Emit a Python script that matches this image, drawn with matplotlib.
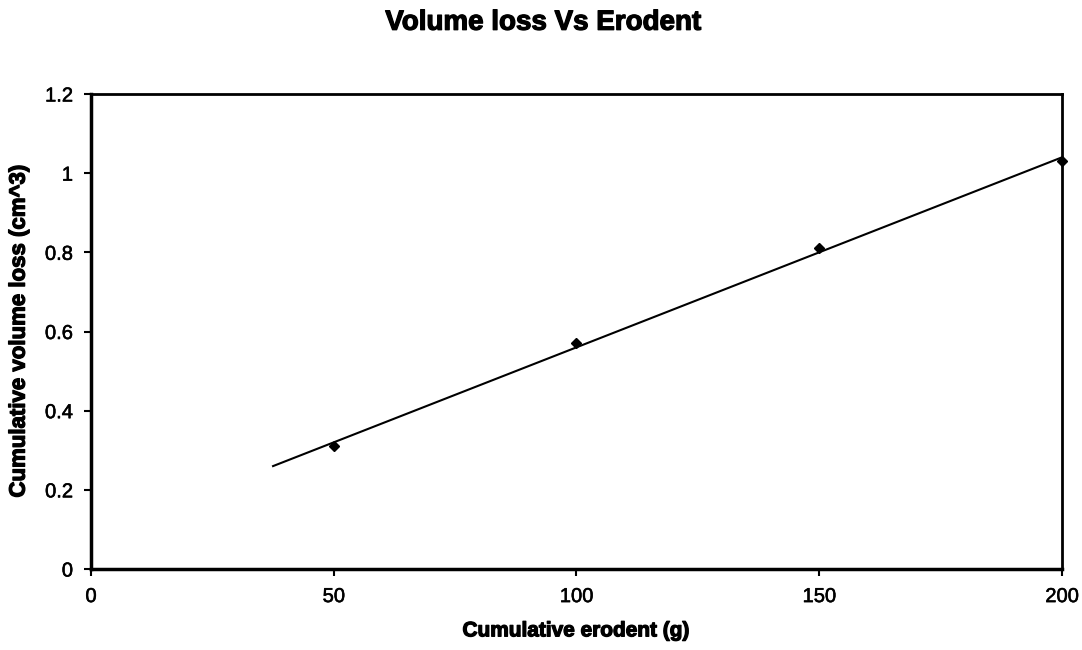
import numpy as np
import matplotlib.pyplot as plt
import matplotlib.patheffects as pe

plt.rcParams["font.family"] = ["Liberation Sans", "DejaVu Sans"]

# Erosion test results
erodent = [50, 100, 150, 200]
volume_loss = [0.31, 0.57, 0.81, 1.03]
trend_start = 37.5

heavy = [pe.withStroke(linewidth=0.9, foreground="black")]
medium = [pe.withStroke(linewidth=0.4, foreground="black")]

fig = plt.figure(figsize=(10.82, 6.5), dpi=100)
ax = fig.add_axes([0.0841, 0.1246, 0.8974, 0.7308])

# linear trendline, extended backward a little
slope, intercept = np.polyfit(erodent, volume_loss, 1)
tx = np.array([trend_start, erodent[-1]])
ax.plot(tx, slope * tx + intercept, color="black", lw=1.5, zorder=2)

ax.plot(erodent, volume_loss, linestyle="none", marker="D", markersize=5.5,
        color="black", zorder=3, clip_on=False)

ax.set_xlim(0, 200)
ax.set_ylim(0, 1.2)
ax.set_xticks([0, 50, 100, 150, 200])
ax.set_yticks([0, 0.2, 0.4, 0.6, 0.8, 1.0, 1.2])
ax.set_yticklabels(["0", "0.2", "0.4", "0.6", "0.8", "1", "1.2"])
ax.tick_params(axis="both", labelsize=14.5, width=1.5, length=5, direction="out")
ax.tick_params(axis="x", pad=8)
ax.tick_params(axis="y", pad=8)
for lab in ax.get_xticklabels() + ax.get_yticklabels():
    lab.set_path_effects(medium)

for side in ["left", "bottom"]:
    ax.spines[side].set_linewidth(2.5)
for side in ["top", "right"]:
    ax.spines[side].set_linewidth(2.0)

ax.set_xlabel("Cumulative erodent (g)", fontsize=15, fontweight="bold",
              labelpad=11, path_effects=heavy)
ax.set_ylabel("Cumulative volume loss (cm^3)", fontsize=16, fontweight="bold",
              labelpad=11, path_effects=heavy)
fig.suptitle("Volume loss Vs Erodent", fontsize=20, fontweight="bold",
             x=0.502, y=0.985, path_effects=heavy)

fig.savefig("out.png", dpi=100)
